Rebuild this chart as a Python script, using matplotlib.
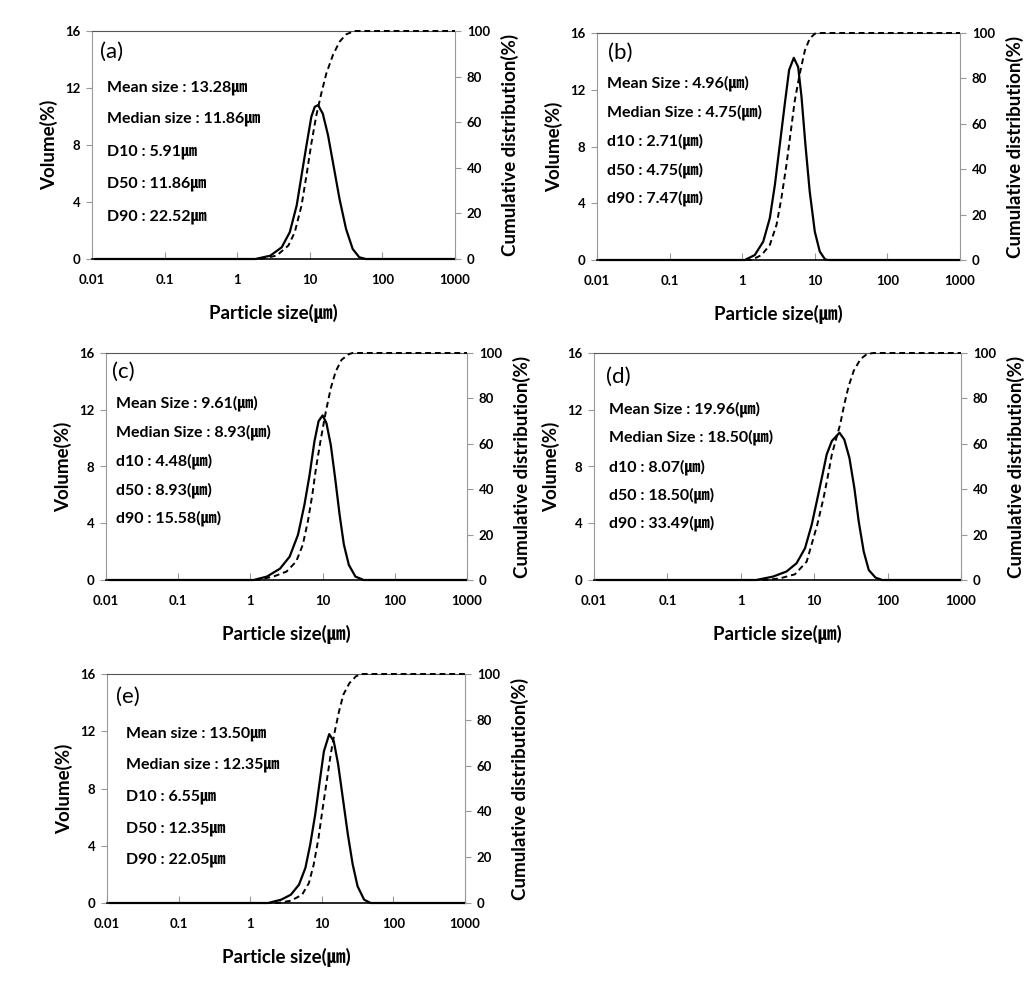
import matplotlib
matplotlib.use("Agg")
import matplotlib.pyplot as plt
from matplotlib.ticker import NullLocator

plt.rcParams['font.family'] = ['Lato', 'Noto Sans CJK KR', 'DejaVu Sans']
plt.rcParams['font.weight'] = 'bold'
plt.rcParams['axes.labelweight'] = 'bold'

# =========================
# Data
# =========================

# (a)
a_vol_x = [0.011, 1.78, 2.85, 4.1, 5.3, 6.6, 7.7, 9.0, 10.5, 11.7, 13.0, 15.1, 17.8, 20.8, 25.7, 31.6, 39, 48, 59, 1000]
a_vol = [0, 0, 0.23, 0.82, 1.88, 3.76, 5.87, 7.98, 9.98, 10.68, 10.8, 10.2, 8.7, 6.8, 4.2, 2.1, 0.7, 0.12, 0, 0]
a_cum_x = [0.011, 2.1, 3.5, 5.07, 6.2, 7.7, 9.0, 10.5, 12.3, 14.4, 16.9, 20.8, 25.7, 31.6, 41, 1000]
a_cum = [0, 0, 1.5, 5.9, 11.7, 23.5, 36.7, 50.6, 63, 72.6, 81.4, 89.4, 95.3, 98.5, 100, 100]

# (b)
b_vol_x = [0.011, 1.09, 1.49, 1.95, 2.4, 2.82, 3.3, 3.86, 4.43, 5.14, 5.9, 6.56, 7.42, 8.5, 10, 11.7, 13.8, 15.2, 1000]
b_vol = [0, 0, 0.35, 1.3, 2.95, 5.3, 8.15, 11.0, 13.4, 14.25, 13.6, 11.5, 8.15, 4.85, 2.0, 0.6, 0.05, 0, 0]
b_cum_x = [0.011, 1.34, 1.85, 2.4, 2.97, 3.47, 4.07, 4.68, 5.3, 6.2, 7.3, 8.5, 10, 12, 1000]
b_cum = [0, 0, 2.2, 6.6, 15.5, 27.3, 42, 56.9, 70.2, 82, 92.3, 97.5, 99.7, 100, 100]

# (c)
c_vol_x = [0.011, 1.11, 1.69, 2.57, 3.5, 4.57, 5.6, 6.6, 7.7, 8.8, 10.0, 11.3, 13.0, 14.9, 17.2, 19.7, 23.1, 28.5, 37, 1000]
c_vol = [0, 0, 0.24, 0.8, 1.65, 3.2, 5.3, 7.4, 9.76, 11.2, 11.6, 11.06, 9.5, 7.2, 4.6, 2.5, 1.06, 0.24, 0, 0]
c_cum_x = [0.011, 1.23, 2.08, 3.16, 4.3, 5.3, 6.24, 7.2, 8.1, 9.5, 11.1, 13.0, 15.2, 18.3, 23.1, 26, 1000]
c_cum = [0, 0, 1.5, 3.7, 8.1, 15.4, 25.7, 37.5, 49.3, 62.5, 74.3, 84.6, 91.9, 97, 99.5, 100, 100]

# (d)
d_vol_x = [0.011, 1.62, 2.75, 4.2, 5.75, 7.5, 9.25, 10.8, 12.7, 14.8, 17.4, 22.1, 25.7, 30.2, 35.2, 40.4, 47.3, 55.4, 68.4, 84.5, 1000]
d_vol = [0, 0, 0.24, 0.6, 1.18, 2.24, 3.9, 5.5, 7.2, 8.85, 9.8, 10.38, 9.9, 8.6, 6.5, 4.13, 2.0, 0.7, 0.17, 0, 0]
d_cum_x = [0.011, 2.2, 3.4, 5.46, 7.9, 11.0, 13.4, 15.2, 17.4, 20.4, 22.6, 25.7, 29.5, 34.6, 42.7, 52.6, 64.7, 1000]
d_cum = [0, 0, 0.7, 2.5, 8.1, 24.3, 36.1, 45, 55.3, 63.4, 68.6, 77.4, 85.5, 92.2, 97.3, 99.6, 100, 100]

# (e)
e_vol_x = [0.011, 1.78, 2.7, 3.7, 4.8, 5.9, 6.9, 8.1, 9.5, 10.7, 12.7, 14.7, 16.9, 19.7, 23.1, 27, 31.6, 39, 48, 1000]
e_vol = [0, 0, 0.23, 0.58, 1.28, 2.45, 4.1, 6.2, 8.74, 10.6, 11.8, 11.3, 9.7, 7.3, 4.8, 2.7, 1.17, 0.23, 0, 0]
e_cum_x = [0.011, 2.43, 3.7, 5.3, 6.6, 7.7, 9.0, 10.3, 11.7, 13.3, 15.2, 17.4, 20, 24.3, 30, 36, 1000]
e_cum = [0, 0, 1, 3.6, 8.7, 16.7, 28.4, 41.5, 53.1, 64.8, 75, 83.7, 91, 96, 99, 100, 100]

a_text = ["Mean size : 13.28㎛", "Median size : 11.86㎛", "D10 : 5.91㎛", "D50 : 11.86㎛", "D90 : 22.52㎛"]
b_text = ["Mean Size : 4.96(㎛)", "Median Size : 4.75(㎛)", "d10 : 2.71(㎛)", "d50 : 4.75(㎛)", "d90 : 7.47(㎛)"]
c_text = ["Mean Size : 9.61(㎛)", "Median Size : 8.93(㎛)", "d10 : 4.48(㎛)", "d50 : 8.93(㎛)", "d90 : 15.58(㎛)"]
d_text = ["Mean Size : 19.96(㎛)", "Median Size : 18.50(㎛)", "d10 : 8.07(㎛)", "d50 : 18.50(㎛)", "d90 : 33.49(㎛)"]
e_text = ["Mean size : 13.50㎛", "Median size : 12.35㎛", "D10 : 6.55㎛", "D50 : 12.35㎛", "D90 : 22.05㎛"]

x_ticks = [0.01, 0.1, 1, 10, 100, 1000]
x_tick_labels = ["0.01", "0.1", "1", "10", "100", "1000"]
vol_ticks = [0, 4, 8, 12, 16]
cum_ticks = [0, 20, 40, 60, 80, 100]

# =========================
# Figure
# =========================
W, H = 1036, 985
fig = plt.figure(figsize=(W / 100, H / 100), dpi=100)


def panel(box, letter, letter_xy, vol_x, vol, cum_x, cum, lines, text_x, text_y):
    l, t, r, b = box
    w, h = r - l, b - t
    ax = fig.add_axes([l / W, 1 - b / H, w / W, h / H])
    ax2 = ax.twinx()

    ax.plot(vol_x, vol, color="black", lw=1.6, clip_on=False, zorder=3)
    ax2.plot(cum_x, cum, color="black", lw=1.4, dashes=(3, 2), clip_on=False, zorder=3)

    ax.set_xscale("log")
    ax.set_xlim(0.01, 1000)
    ax.set_xticks(x_ticks)
    ax.set_xticklabels(x_tick_labels)
    ax.xaxis.set_minor_locator(NullLocator())
    ax.set_ylim(0, 16)
    ax.set_yticks(vol_ticks)
    ax2.set_ylim(0, 100)
    ax2.set_yticks(cum_ticks)

    ax.tick_params(axis="x", direction="in", length=5, color="#999999", pad=10.5, labelsize=9.5)
    ax.tick_params(axis="y", direction="out", length=4, color="#999999", pad=4.5, labelsize=9.5)
    ax2.tick_params(axis="y", direction="out", length=4, color="#999999", pad=4.5, labelsize=9.5)

    for s in ["left", "right", "top", "bottom"]:
        ax2.spines[s].set_visible(False)
    ax.spines["right"].set_visible(False)
    ax2.spines["right"].set_visible(True)
    ax2.spines["right"].set_color("#999999")
    ax.spines["left"].set_color("#999999")
    ax.spines["top"].set_color("#555555")
    ax.spines["bottom"].set_color("black")
    ax.spines["bottom"].set_linewidth(1.2)

    ax.set_xlabel("Particle size(㎛)", fontsize=13.5, fontweight="bold", va="center")
    ax.xaxis.set_label_coords(0.5, -54 / h)
    ax.set_ylabel("Volume(%)", fontsize=13.5, fontweight="bold", va="center")
    ax.yaxis.set_label_coords(-43 / w, 0.5)
    ax2.set_ylabel("Cumulative distribution(%)", fontsize=13.5, fontweight="bold", va="center")
    ax2.yaxis.set_label_coords(1 + 55 / w, 0.5)

    ax2.text(letter_xy[0], letter_xy[1], letter, transform=ax.transAxes,
             fontsize=16, fontweight="normal", ha="left", va="center")
    for s, y in zip(lines, text_y):
        ax2.text(text_x, y, s, transform=ax.transAxes, fontsize=11.5,
                 fontweight="bold", ha="left", va="center")
    return ax


panel((92, 31, 455, 259), "(a)", (0.022, 0.908), a_vol_x, a_vol, a_cum_x, a_cum,
      a_text, 0.041, [0.751, 0.617, 0.471, 0.329, 0.186])
panel((597, 33, 960, 260), "(b)", (0.03, 0.912), b_vol_x, b_vol, b_cum_x, b_cum,
      b_text, 0.028, [0.778, 0.653, 0.525, 0.396, 0.272])
panel((106, 353, 467, 580), "(c)", (0.016, 0.918), c_vol_x, c_vol, c_cum_x, c_cum,
      c_text, 0.027, [0.778, 0.653, 0.525, 0.396, 0.272])
panel((594, 353, 961, 580), "(d)", (0.033, 0.896), d_vol_x, d_vol, d_cum_x, d_cum,
      d_text, 0.042, [0.752, 0.629, 0.499, 0.374, 0.25])
panel((107, 674, 465, 903), "(e)", (0.025, 0.901), e_vol_x, e_vol, e_cum_x, e_cum,
      e_text, 0.053, [0.737, 0.603, 0.464, 0.326, 0.188])

fig.savefig("out.png", dpi=100)
